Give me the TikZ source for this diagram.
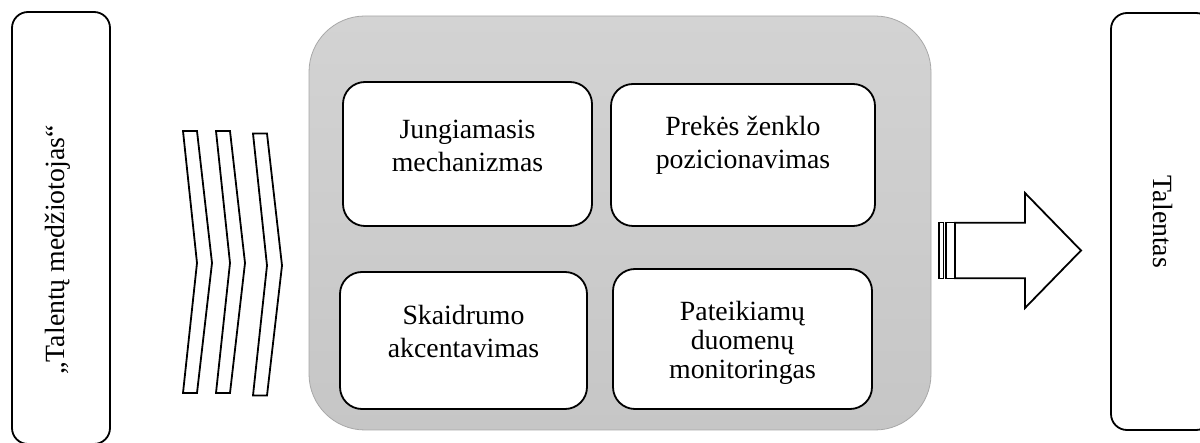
\documentclass[tikz,border=0pt]{standalone}
\usepackage{fontspec}
\setmainfont{Liberation Serif}
\definecolor{paneltop}{HTML}{D3D3D3}
\definecolor{panelbot}{HTML}{C6C6C6}
\definecolor{panelline}{HTML}{A8A8A8}

\begin{document}
\begin{tikzpicture}[x=1pt,y=-1pt,
        sidebox/.style={rectangle,draw,line width=1.8pt,rounded corners=16pt},
        panel/.style={rectangle,draw=panelline,line width=0.8pt,rounded corners=56pt,
                      top color=paneltop,bottom color=panelbot},
        itembox/.style={rectangle,draw,fill=white,line width=1.8pt,rounded corners=22pt},
        itemtext/.style={align=center,inner sep=0pt,font=\fontsize{27.8}{33}\selectfont},
        chevron/.style={draw,fill=white,line width=1.8pt,line join=miter}]
      \useasboundingbox (0,0) rectangle (1200,443);
      % side boxes
      \node[sidebox,minimum width=98pt,minimum height=432pt](hunter) at(61,228){};
      \node[itemtext,rotate=90](huntertxt) at(58,250){„Talentų medžiotojas“};
      \node[sidebox,minimum width=101pt,minimum height=417pt](talent) at(1161.5,221.5){};
      \node[itemtext,rotate=-90](talenttxt) at(1163,222){Talentas};
      % grey panel with the four items
      \node[panel,minimum width=622pt,minimum height=414pt](panel) at(620,223){};
      \node[itembox,minimum width=249pt,minimum height=144pt](link) at(467.5,154){};
      \node[itembox,minimum width=264pt,minimum height=142pt](brand) at(743,155){};
      \node[itembox,minimum width=247pt,minimum height=137pt](clear) at(463.5,340.5){};
      \node[itembox,minimum width=259pt,minimum height=140pt](data) at(742.5,339){};
      \node[itemtext](linktxt) at(467.5,145.5){Jungiamasis\\mechanizmas};
      \node[itemtext](brandtxt) at(743,145.5){Prekės ženklo\\pozicionavimas};
      \node[itemtext](cleartxt) at(463.5,331.5){Skaidrumo\\akcentavimas};
      \node[itemtext,font=\fontsize{27.8}{29}\selectfont](datatxt) at(742.5,342.5)
           {Pateikiamų\\duomenų\\monitoringas};
      % chevrons
      \foreach \cx/\cy in {183/0,216/0,253/2.5}
        \draw[chevron] (\cx,131+\cy) -- ++(14,0) -- ++(15,132) -- ++(-15,130)
                       -- ++(-14,0) -- ++(14,-130) -- cycle;
      % striped arrow
      \draw[line width=1.4pt,fill=white] (939,222.7) rectangle (943.3,278.3);
      \draw[line width=1.4pt,fill=white] (946,222.7) rectangle (954.3,278.3);
      \draw[chevron] (955,222.7) -- (1025,222.7) -- (1025,193) -- (1081,250.5)
                     -- (1025,308) -- (1025,278.3) -- (955,278.3) -- cycle;
    \end{tikzpicture}
\end{document}
